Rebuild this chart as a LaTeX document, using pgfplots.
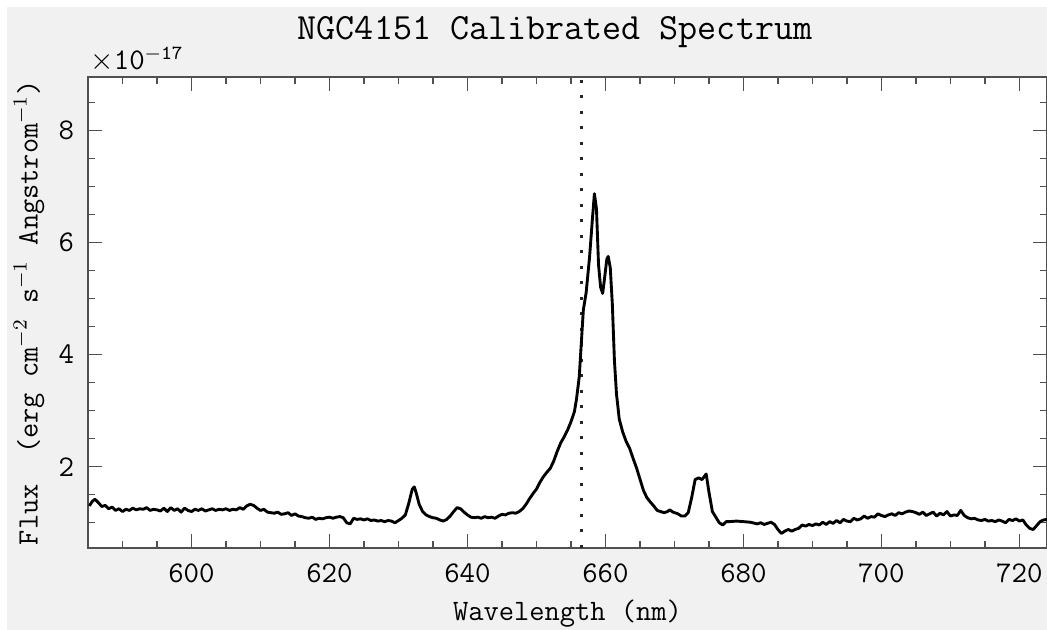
\documentclass[border=0pt]{standalone}
\usepackage{pgfplots}
\pgfplotsset{compat=1.18}
\renewcommand{\familydefault}{\ttdefault}
\definecolor{bggray}{RGB}{241,241,241}
\definecolor{axgray}{RGB}{80,80,80}

\pgfplotstableread{
x y
585.2 1.30
585.6 1.38
586.0 1.42
586.5 1.36
587.0 1.29
587.5 1.31
588.0 1.25
588.5 1.28
589.0 1.22
589.5 1.25
590.0 1.20
590.5 1.24
591.0 1.22
591.5 1.26
592.0 1.23
592.5 1.25
593.0 1.24
593.5 1.27
594.0 1.22
594.5 1.24
595.0 1.23
595.5 1.21
596.0 1.26
596.5 1.20
597.0 1.27
597.5 1.22
598.0 1.25
598.5 1.19
599.0 1.26
599.5 1.22
600.0 1.20
600.5 1.24
601.0 1.22
601.5 1.25
602.0 1.21
602.5 1.23
603.0 1.25
603.5 1.22
604.0 1.24
604.5 1.23
605.0 1.25
605.5 1.22
606.0 1.24
606.5 1.23
607.0 1.27
607.5 1.24
608.0 1.30
608.5 1.33
609.0 1.31
609.5 1.26
610.0 1.22
610.5 1.24
611.0 1.19
611.5 1.18
612.0 1.17
612.5 1.19
613.0 1.15
613.5 1.16
614.0 1.18
614.5 1.13
615.0 1.16
615.5 1.12
616.0 1.11
616.5 1.09
617.0 1.08
617.5 1.10
618.0 1.06
618.5 1.08
619.0 1.07
619.5 1.09
620.0 1.10
620.5 1.08
621.0 1.10
621.5 1.11
622.0 1.09
622.5 1.00
623.0 0.98
623.5 1.08
624.0 1.06
624.5 1.07
625.0 1.05
625.5 1.07
626.0 1.04
626.5 1.05
627.0 1.03
627.5 1.04
628.0 1.02
628.5 1.04
629.0 1.03
629.5 1.00
630.0 1.04
630.5 1.08
631.0 1.14
631.5 1.35
632.0 1.60
632.3 1.64
632.6 1.52
633.0 1.33
633.5 1.20
634.0 1.14
634.5 1.11
635.0 1.09
635.5 1.08
636.0 1.05
636.5 1.03
637.0 1.06
637.5 1.12
638.0 1.20
638.5 1.27
639.0 1.25
639.5 1.19
640.0 1.14
640.5 1.10
641.0 1.09
641.5 1.10
642.0 1.08
642.5 1.11
643.0 1.09
643.5 1.10
644.0 1.08
644.5 1.12
645.0 1.15
645.5 1.14
646.0 1.17
646.5 1.18
647.0 1.17
647.5 1.20
648.0 1.25
648.5 1.33
649.0 1.43
649.5 1.52
650.0 1.60
650.5 1.72
651.0 1.82
651.5 1.90
652.0 1.97
652.5 2.10
653.0 2.27
653.5 2.42
654.0 2.53
654.5 2.65
655.0 2.80
655.5 2.98
655.8 3.20
656.2 3.60
656.5 4.20
656.8 4.80
657.2 5.10
657.7 5.74
658.1 6.40
658.4 6.87
658.7 6.60
659.0 5.60
659.3 5.20
659.6 5.09
659.9 5.39
660.2 5.70
660.4 5.75
660.7 5.55
661.0 4.90
661.3 3.90
661.6 3.30
662.0 2.85
662.5 2.62
663.0 2.45
663.5 2.33
664.0 2.15
664.5 1.98
665.0 1.78
665.5 1.58
666.0 1.45
666.5 1.37
667.0 1.30
667.5 1.22
668.0 1.20
668.5 1.18
669.0 1.20
669.3 1.23
669.8 1.19
670.5 1.16
671.0 1.12
671.5 1.12
672.0 1.18
672.5 1.45
673.0 1.77
673.5 1.80
674.0 1.77
674.3 1.82
674.6 1.87
675.0 1.55
675.5 1.20
676.0 1.10
676.5 1.00
677.0 0.96
677.5 1.02
678.0 1.02
679.0 1.03
680.0 1.02
681.0 1.01
682.0 0.98
682.5 1.00
683.0 0.97
684.0 1.01
684.5 0.97
685.0 0.88
685.5 0.81
686.0 0.85
686.5 0.88
687.0 0.85
687.5 0.88
688.0 0.90
688.5 0.96
689.0 0.94
689.5 0.97
690.0 0.95
690.5 0.98
691.0 0.96
691.5 1.01
692.0 0.97
692.5 1.02
693.0 0.99
693.5 1.04
694.0 1.00
694.5 1.06
695.0 1.03
695.5 1.02
696.0 1.08
696.5 1.05
697.0 1.07
697.5 1.12
698.0 1.08
698.5 1.11
699.0 1.10
699.5 1.16
700.0 1.13
700.5 1.11
701.0 1.14
701.5 1.16
702.0 1.13
702.5 1.18
703.0 1.16
703.5 1.19
704.0 1.21
704.5 1.20
705.0 1.18
705.5 1.15
706.0 1.19
706.5 1.13
707.0 1.16
707.5 1.19
708.0 1.12
708.5 1.17
709.0 1.14
709.5 1.20
710.0 1.12
710.5 1.14
711.0 1.13
711.5 1.22
712.0 1.13
712.5 1.09
713.0 1.07
713.5 1.08
714.0 1.05
714.5 1.04
715.0 1.06
715.5 1.03
716.0 1.04
716.5 1.02
717.0 1.05
717.5 1.03
718.0 1.00
718.5 1.06
719.0 1.04
719.5 1.07
720.0 1.03
720.5 1.05
721.0 0.96
721.5 0.90
722.0 0.88
722.5 0.95
723.0 1.02
723.5 1.05
724.0 1.06
}\spectrum

\pgfplotstableread{
x y
656.5 0
656.5 10
}\halpha

\begin{document}
\begin{tikzpicture}
\useasboundingbox (-35.2pt,-32.8pt) rectangle (383.6pt,219.2pt);
\fill[bggray] (-32.4pt,-32.8pt) rectangle (390pt,216.4pt);
\begin{axis}[
  at={(0pt,0pt)}, anchor=south west,
  scale only axis,
  width=383.6pt, height=188.4pt,
  xmin=585, xmax=724,
  ymin=0.55, ymax=8.95,
  xtick={600,620,...,720},
  ytick={2,4,6,8},
  minor xtick={585,590,...,725},
  minor ytick={0.5,1,...,9},
  tick align=inside,
  major tick length=5.6pt,
  minor tick length=2.8pt,
  every tick/.style={axgray, line width=0.5pt},
  axis line style={axgray, line width=0.6pt},
  axis background/.style={fill=white},
  /pgf/number format/assume math mode=true,
  xticklabel style={font=\fontsize{12}{14}\selectfont, anchor=base, yshift=-14pt},
  yticklabel style={font=\fontsize{12}{14}\selectfont, anchor=east, xshift=-2pt},
  scaled y ticks=false,
  title={NGC4151 Calibrated Spectrum},
  title style={font=\fontsize{14.8}{17}\selectfont, at={(axis description cs:0.487,1)}, anchor=base, yshift=9.2pt},
  xlabel={Wavelength (nm)},
  xlabel style={font=\fontsize{11.85}{14}\selectfont, at={(axis description cs:0.5,0)}, anchor=base, yshift=-29pt},
  ylabel={Flux\ \ (erg cm$^{-2}$ s$^{-1}$ Angstrom$^{-1}$)},
  ylabel style={font=\fontsize{11.8}{14}\selectfont, at={(axis description cs:-0.0615,0.5)}, anchor=center},
]
\addplot[black!85, line width=1.2pt, dash pattern=on 1.2pt off 5pt] table[x=x,y=y] {\halpha};
\addplot[black, line width=1.15pt, line join=round] table[x=x,y=y] {\spectrum};
\end{axis}
\node[anchor=base west, inner sep=0pt, font=\fontsize{12}{14}\selectfont] at (0.8pt,191.2pt) {$\times$10\raisebox{4pt}{\fontsize{8}{9}\selectfont$-$17}};
\end{tikzpicture}
\end{document}
